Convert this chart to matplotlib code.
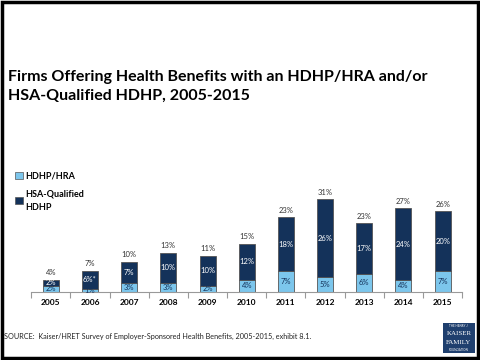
import matplotlib.pyplot as plt
from matplotlib.patches import Rectangle, Patch

years = ['2005', '2006', '2007', '2008', '2009', '2010',
         '2011', '2012', '2013', '2014', '2015']
hdhp_hra = [2, 1, 3, 3, 2, 4, 7, 5, 6, 4, 7]
hsa_hdhp = [2, 6, 7, 10, 10, 12, 18, 26, 17, 24, 20]
totals = [4, 7, 10, 13, 11, 15, 23, 31, 23, 27, 26]
hsa_labels = ['2%', '6%*', '7%', '10%', '10%', '12%', '18%', '26%', '17%', '24%', '20%']

light = '#7CC6EC'
dark = '#14325A'

plt.rcParams['font.family'] = ['Lato', 'DejaVu Sans']

fig = plt.figure(figsize=(4.8, 3.6), dpi=100)
ax = fig.add_axes([0.065, 0.19, 0.898, 0.289])

x = list(range(len(years)))
ax.bar(x, hdhp_hra, width=0.41, color=light, edgecolor='#555555', linewidth=0.6)
ax.bar(x, hsa_hdhp, width=0.41, bottom=hdhp_hra, color=dark, edgecolor='#555555', linewidth=0.6)

for i in x:
    ax.text(i, hdhp_hra[i] / 2, f'{hdhp_hra[i]}%', ha='center', va='center',
            fontsize=5.5, color='#14325A')
    ax.text(i, hdhp_hra[i] + hsa_hdhp[i] / 2, hsa_labels[i], ha='center', va='center',
            fontsize=5.5, color='white')
    ax.text(i, hdhp_hra[i] + hsa_hdhp[i] + 1.2, f'{totals[i]}%', ha='center', va='bottom',
            fontsize=5.5, color='#333333')

ax.set_xlim(-0.5, len(years) - 0.5)
ax.set_ylim(0, 35)
ax.set_yticks([])
for s in ['top', 'right', 'left']:
    ax.spines[s].set_visible(False)
ax.spines['bottom'].set_color('#999999')
ax.spines['bottom'].set_linewidth(0.8)
ax.set_xticks(x)
ax.set_xticklabels(years, fontsize=6, fontweight='bold')
ax.set_xticks([i + 0.5 for i in range(-1, len(years))], minor=True)
ax.tick_params(axis='x', which='major', length=0, pad=5)
ax.tick_params(axis='x', which='minor', length=4, color='#999999', width=0.8)

fig.text(0.017, 0.76, 'Firms Offering Health Benefits with an HDHP/HRA and/or\nHSA-Qualified HDHP, 2005-2015',
         fontsize=11.5, fontweight='bold', va='center', ha='left', linespacing=1.45)

handles = [Patch(facecolor=light, edgecolor='#555555', linewidth=0.5),
           Patch(facecolor=dark, edgecolor='#555555', linewidth=0.5)]
leg = fig.legend(handles, ['HDHP/HRA', 'HSA-Qualified\nHDHP'], loc='upper left',
                 bbox_to_anchor=(0.015, 0.545), frameon=False,
                 prop={'weight': 'bold', 'size': 6.5}, handlelength=0.8, handleheight=0.8,
                 handletextpad=0.3, labelspacing=0.9)
for t in leg.get_texts():
    t.set_linespacing(1.7)

fig.text(0.008, 0.064, 'SOURCE:  Kaiser/HRET Survey of Employer-Sponsored Health Benefits, 2005-2015, exhibit 8.1.',
         fontsize=5.2, color='#222222', va='center')

# logo box
fig.patches.append(Rectangle((0.923, 0.02), 0.067, 0.083, transform=fig.transFigure,
                             facecolor='#1F3F6E', edgecolor='none'))
fig.text(0.956, 0.094, 'THE HENRY J.', fontsize=2.2, color='white', ha='center', va='center')
fig.text(0.956, 0.073, 'KAISER', fontsize=5, color='white', ha='center', va='center', family='Liberation Serif')
fig.text(0.956, 0.049, 'FAMILY', fontsize=5, color='white', ha='center', va='center', family='Liberation Serif')
fig.text(0.956, 0.028, 'FOUNDATION', fontsize=2.2, color='white', ha='center', va='center')

# outer frame
fig.patches.append(Rectangle((0.004, 0.005), 0.992, 0.99, transform=fig.transFigure,
                             facecolor='none', edgecolor='black', linewidth=2.5))

fig.savefig('out.png', dpi=100)
